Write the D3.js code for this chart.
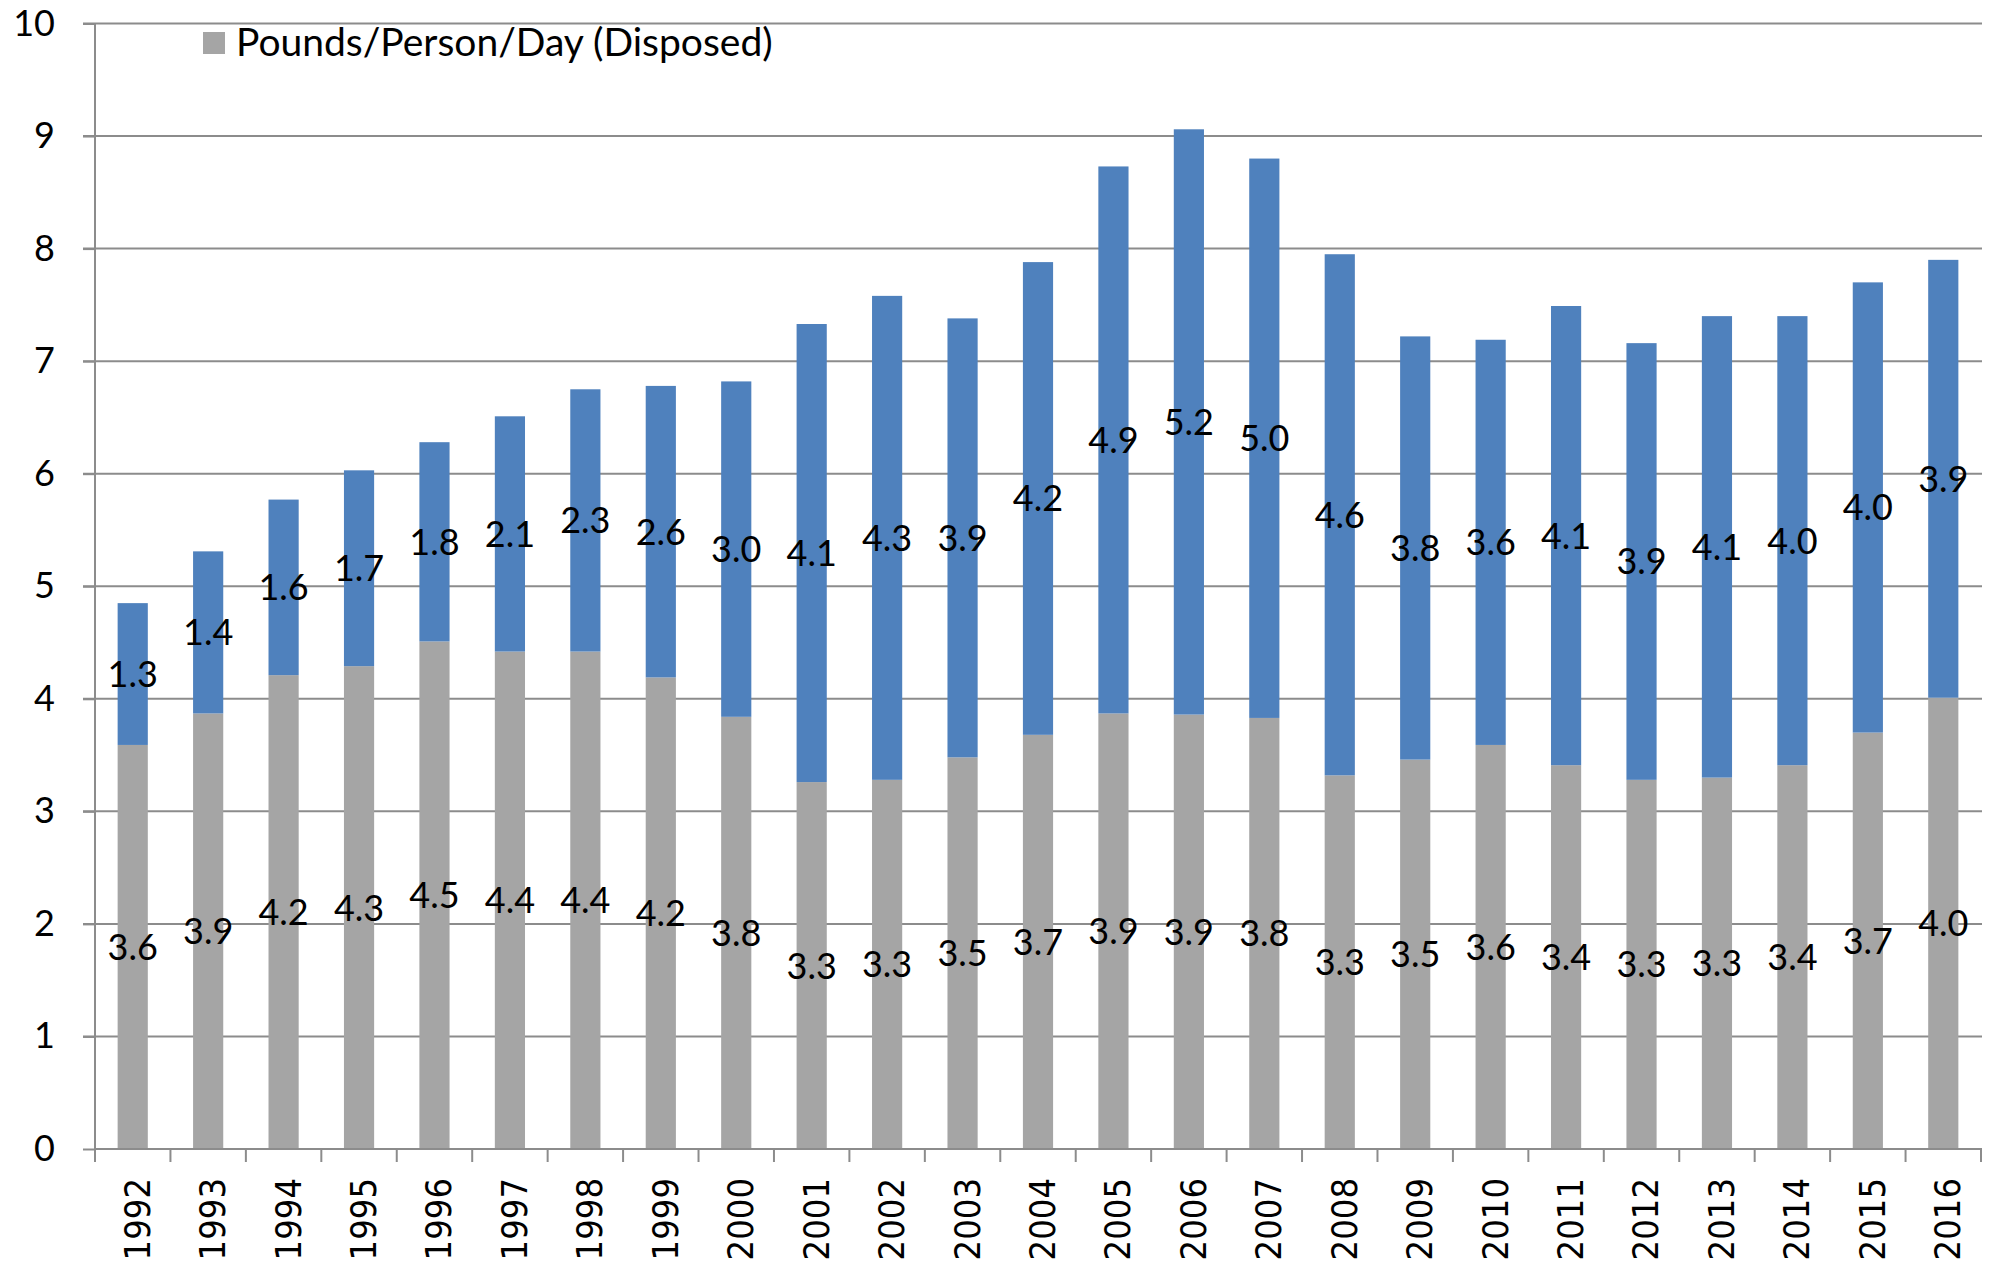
<!DOCTYPE html>
<html>
<head>
<meta charset="utf-8">
<script src="https://cdn.jsdelivr.net/npm/d3@7"></script>
<style>
  body { margin: 0; background: #fff; }
  .grid line { stroke: #8c8c8c; stroke-width: 2; }
  .axis path, .axis line { stroke: #8c8c8c; stroke-width: 2; }
  .ylab text { font-family: Lato, sans-serif; font-size: 36px; fill: #000; }
  .xlab text { font-family: "DejaVu Sans Condensed", "DejaVu Sans", sans-serif; font-stretch: condensed; font-size: 36px; fill: #000; }
  .vals text { font-family: Lato, sans-serif; font-size: 36px; fill: #000; }
  .legend text { font-family: Lato, sans-serif; font-size: 39px; fill: #000; }
</style>
</head>
<body>
<script>
// values
var years = ["1992", "1993", "1994", "1995", "1996", "1997", "1998", "1999", "2000",
    "2001", "2002", "2003", "2004", "2005", "2006", "2007", "2008", "2009", "2010",
    "2011", "2012", "2013", "2014", "2015", "2016"];
var disposed = [3.59, 3.87, 4.21, 4.29, 4.51, 4.42, 4.42, 4.19, 3.84, 3.26, 3.28, 3.48, 3.68,
    3.87, 3.86, 3.83, 3.32, 3.46, 3.59, 3.41, 3.28, 3.30, 3.41, 3.70, 4.01];
var recycled = [1.26, 1.44, 1.56, 1.74, 1.77, 2.09, 2.33, 2.59, 2.98, 4.07, 4.30, 3.90, 4.20,
    4.86, 5.20, 4.97, 4.63, 3.76, 3.60, 4.08, 3.88, 4.10, 3.99, 4.00, 3.89];
var yTicks = [0, 1, 2, 3, 4, 5, 6, 7, 8, 9, 10];
var legendLabel = "Pounds/Person/Day (Disposed)";

var width = 1993,
    height = 1265;

var x = d3.scaleBand()
    .domain(years)
    .range([95, 1981])
    .paddingInner(0.6)
    .paddingOuter(0.3);

var y = d3.scaleLinear()
    .domain([0, 10])
    .range([1149, 23.5]);

var color = { disposed: "#a5a5a5", recycled: "#4f81bd" };

var rows = years.map(function(yr, i) {
    return { year: yr, disposed: disposed[i], recycled: recycled[i] };
});
var series = d3.stack().keys(["disposed", "recycled"])(rows);

var svg = d3.select("body").append("svg")
    .attr("width", width)
    .attr("height", height);

// horizontal gridlines (they run out past the axis like tick marks)
svg.append("g")
    .attr("class", "grid")
    .selectAll("line")
    .data(yTicks.slice(1))
    .enter().append("line")
    .attr("x1", 83)
    .attr("x2", 1982)
    .attr("y1", function(d) { return y(d); })
    .attr("y2", function(d) { return y(d); });

// bars
svg.append("g")
    .selectAll("g")
    .data(series)
    .enter().append("g")
    .attr("fill", function(s) { return color[s.key]; })
    .selectAll("rect")
    .data(function(s) { return s; })
    .enter().append("rect")
    .attr("x", function(d) { return x(d.data.year); })
    .attr("width", x.bandwidth())
    .attr("y", function(d) { return y(d[1]); })
    .attr("height", function(d) { return y(d[0]) - y(d[1]); });

// y axis
var yAxis = svg.append("g")
    .attr("class", "axis ylab")
    .attr("transform", "translate(95,0)")
    .call(d3.axisLeft(y).tickValues(yTicks).tickFormat(d3.format("d")).tickSize(12).tickPadding(28));
yAxis.select(".domain").attr("d", "M0," + y(10) + "V" + y(0));

// x axis, ticks between categories
var xAxis = svg.append("g")
    .attr("class", "axis")
    .attr("transform", "translate(0," + y(0) + ")");
xAxis.append("line")
    .attr("x1", 95).attr("x2", 1982)
    .attr("y1", 0).attr("y2", 0);
var step = x.step();
xAxis.selectAll("line.tick")
    .data(d3.range(years.length + 1))
    .enter().append("line")
    .attr("class", "tick")
    .attr("x1", function(i) { return 95 + i * step; })
    .attr("x2", function(i) { return 95 + i * step; })
    .attr("y1", 0)
    .attr("y2", 13);

svg.append("g")
    .attr("class", "xlab")
    .selectAll("text")
    .data(years)
    .enter().append("text")
    .attr("transform", function(d) {
        return "translate(" + (x(d) + x.bandwidth() / 2 + 4) + "," + (y(0) + 29) + ") rotate(-90)";
    })
    .attr("text-anchor", "end")
    .attr("dy", "0.36em")
    .text(function(d) { return d; });

// value labels centred in each segment
var fmt = d3.format(".1f");
svg.append("g")
    .attr("class", "vals")
    .selectAll("g")
    .data(series)
    .enter().append("g")
    .selectAll("text")
    .data(function(s) { return s; })
    .enter().append("text")
    .attr("x", function(d) { return x(d.data.year) + x.bandwidth() / 2; })
    .attr("y", function(d) { return y((d[0] + d[1]) / 2); })
    .attr("text-anchor", "middle")
    .attr("dy", "0.36em")
    .text(function(d) { return fmt(d[1] - d[0]); });

// legend (only the grey series is listed)
var legend = svg.append("g").attr("class", "legend");
legend.append("rect")
    .attr("x", 203).attr("y", 32)
    .attr("width", 22).attr("height", 22)
    .attr("fill", color.disposed);
legend.append("text")
    .attr("x", 236)
    .attr("y", 56)
    .text(legendLabel);
</script>
</body>
</html>
